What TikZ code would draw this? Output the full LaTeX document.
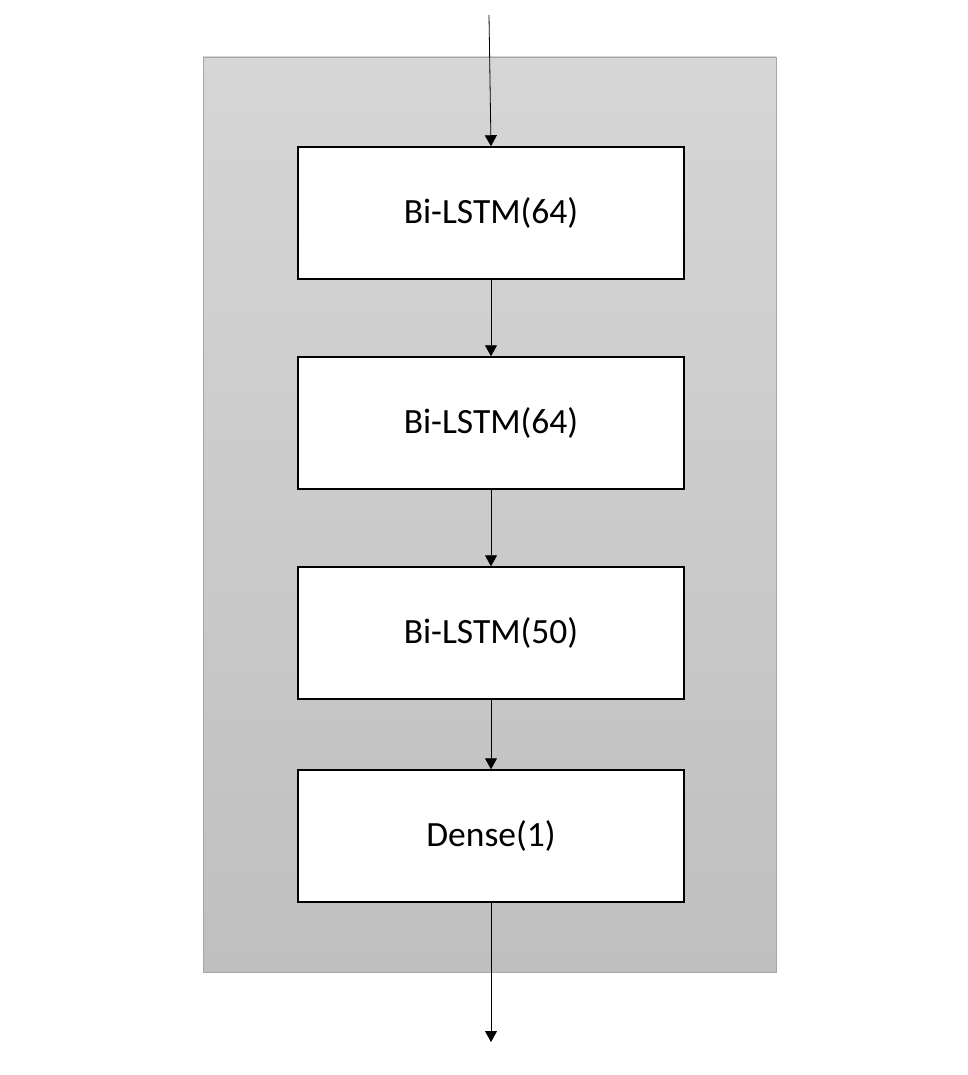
\documentclass[tikz,border=0pt]{standalone}
\usepackage{fontspec}
\setmainfont{Carlito}
\usetikzlibrary{arrows.meta}

\begin{document}
\begin{tikzpicture}[x=1pt,y=-1pt]
        \tikzstyle{every node}=[font=\fontsize{35.5}{42}\selectfont]
        \tikzstyle{layer}=[draw=black, line width=1.5pt, fill=white, minimum width=386pt, minimum height=132pt, inner sep=0pt]
        \tikzstyle{flow}=[draw=black, line width=0.8pt, -{Triangle[width=12pt,length=11pt]}]
        \useasboundingbox (0,0) rectangle (967,1075);

        % model block
        \shade[top color={rgb,255:red,214;green,214;blue,214}, bottom color={rgb,255:red,191;green,191;blue,191}, draw={rgb,255:red,166;green,166;blue,166}, line width=0.8pt] (203,57) rectangle (776,972);

        \node[layer] (lstmA) at (491,213) {Bi-LSTM(64)};
        \node[layer] (lstmB) at (491,423) {Bi-LSTM(64)};
        \node[layer] (lstmC) at (491,633) {Bi-LSTM(50)};
        \node[layer] (dense) at (491,836) {Dense(1)};

        \coordinate (input) at (489,15);
        \coordinate (output) at (491,1042);

        \draw[flow] (input) -- (lstmA.north);
        \draw[flow] (lstmA) -- (lstmB);
        \draw[flow] (lstmB) -- (lstmC);
        \draw[flow] (lstmC) -- (dense);
        \draw[flow] (dense) -- (output);

    \end{tikzpicture}
\end{document}
